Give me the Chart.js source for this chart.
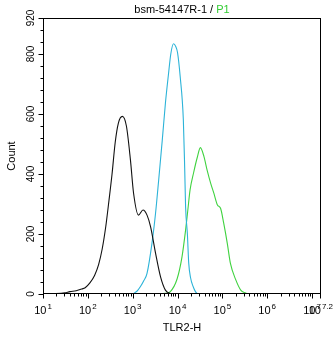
<!DOCTYPE html>
<html>
<head>
<meta charset="utf-8">
<script src="https://cdn.jsdelivr.net/npm/chart.js@4"></script>
<style>
  html, body { margin: 0; padding: 0; background: #fff; }
  canvas { display: block; }
</style>
</head>
<body>
<canvas id="c" width="334" height="337"></canvas>
<script>
// Histogram traces: x positions as log10(TLR2-H), y as event counts
const isotypeExp   = [1.00, 1.27, 1.49, 1.60, 1.74, 1.87, 1.94, 2.05, 2.15, 2.24, 2.32, 2.40, 2.47, 2.54, 2.61, 2.68, 2.77, 2.86, 2.95, 3.02, 3.13, 3.23, 3.32, 3.40, 3.51, 3.62, 3.73, 3.84, 3.92, 4.20];
const isotypeCount = [0, 1, 4, 8, 11, 17, 21, 38, 62, 98, 150, 225, 310, 400, 505, 569, 592, 560, 447, 336, 263, 280, 263, 224, 136, 58, 13, 2, 0, 0];

const controlExp   = [3.00, 3.10, 3.17, 3.25, 3.32, 3.43, 3.51, 3.58, 3.66, 3.73, 3.80, 3.85, 3.91, 3.96, 4.00, 4.06, 4.13, 4.16, 4.18, 4.22, 4.25, 4.29, 4.35, 4.40, 4.45];
const controlCount = [0, 10, 24, 45, 69, 169, 269, 380, 513, 636, 735, 800, 834, 825, 805, 724, 580, 420, 291, 200, 103, 55, 24, 8, 0];

const sampleExp   = [3.54, 3.73, 3.84, 3.99, 4.10, 4.18, 4.23, 4.28, 4.36, 4.44, 4.51, 4.59, 4.66, 4.74, 4.81, 4.89, 4.96, 5.03, 5.11, 5.18, 5.30, 5.41, 5.52, 5.56];
const sampleCount = [0, 2, 8, 50, 124, 213, 280, 347, 405, 455, 488, 458, 413, 369, 336, 297, 286, 236, 169, 102, 47, 13, 3, 0];

const xDecades = [1, 2, 3, 4, 5, 6, 7];
const xEndExp = 7.2;
const yMajorTicks = [0, 200, 400, 600, 800, 920];
const yMax = 920;

const titleMain = 'bsm-54147R-1 / ';
const titleGate = 'P1';
const xTitle = 'TLR2-H';
const yTitle = 'Count';

const toPoints = (exps, counts) => exps.map((e, i) => ({ x: Math.pow(10, e), y: counts[i] }));

const FONT = '"Liberation Sans", Arial, sans-serif';

const framePlugin = {
  id: 'frame',
  afterDraw(chart) {
    const { ctx, chartArea: { left, right, top, bottom }, scales: { x, y } } = chart;
    ctx.save();
    ctx.strokeStyle = '#000';
    ctx.lineWidth = 1;
    ctx.strokeRect(Math.round(left) + 0.5, Math.round(top) + 0.5,
                   Math.round(right - left) - 1, Math.round(bottom - top) - 1);

    const ax = Math.round(left) + 0.5;
    const ay = Math.round(bottom) - 0.5;

    // y ticks: majors at labelled values, minors every 40
    ctx.beginPath();
    for (let v = 0; v <= yMax; v += 40) {
      const py = Math.round(y.getPixelForValue(v)) + 0.5;
      const major = yMajorTicks.includes(v);
      ctx.moveTo(ax, py);
      ctx.lineTo(ax - (major ? 5 : 3), py);
    }
    // x ticks: decades and 2..9 minors
    xDecades.forEach(n => {
      for (let k = 1; k <= 9; k++) {
        const val = k * Math.pow(10, n);
        if (Math.log10(val) > xEndExp + 1e-9) break;
        const px = Math.round(x.getPixelForValue(val)) + 0.5;
        ctx.moveTo(px, ay);
        ctx.lineTo(px, ay + (k === 1 ? 5 : 3));
      }
    });
    const pEnd = Math.round(x.getPixelForValue(Math.pow(10, xEndExp))) - 0.5;
    ctx.moveTo(pEnd, ay);
    ctx.lineTo(pEnd, ay + 5);
    ctx.stroke();

    // y tick labels, rotated
    ctx.fillStyle = '#000';
    ctx.font = '10px ' + FONT;
    ctx.textAlign = 'center';
    ctx.textBaseline = 'middle';
    yMajorTicks.forEach(v => {
      const py = y.getPixelForValue(v);
      ctx.save();
      ctx.translate(31, py);
      ctx.rotate(-Math.PI / 2);
      ctx.fillText(String(v), 0, 0);
      ctx.restore();
    });

    // x tick labels as 10 with superscript exponent
    const drawPow = (exp) => {
      const px = x.getPixelForValue(Math.pow(10, exp));
      const base = '10';
      const sup = String(exp);
      ctx.font = '11px ' + FONT;
      const wb = ctx.measureText(base).width;
      ctx.font = '8px ' + FONT;
      const ws = ctx.measureText(sup).width;
      const start = Math.min(px - (wb + 1 + ws) / 2, 333 - (wb + 1 + ws));
      ctx.textAlign = 'left';
      ctx.textBaseline = 'alphabetic';
      ctx.font = '11px ' + FONT;
      ctx.fillText(base, start, 314);
      ctx.font = '8px ' + FONT;
      ctx.fillText(sup, start + wb + 1, 309);
    };
    xDecades.forEach(drawPow);
    drawPow(xEndExp);

    // axis titles
    ctx.font = '11px ' + FONT;
    ctx.textAlign = 'center';
    ctx.textBaseline = 'alphabetic';
    ctx.fillText(xTitle, (left + right) / 2, 331);
    ctx.save();
    ctx.translate(15, (top + bottom) / 2);
    ctx.rotate(-Math.PI / 2);
    ctx.fillText(yTitle, 0, 0);
    ctx.restore();

    // chart title with coloured gate name
    const w1 = ctx.measureText(titleMain).width;
    const w2 = ctx.measureText(titleGate).width;
    const tx = (left + right) / 2 - (w1 + w2) / 2;
    ctx.textAlign = 'left';
    ctx.fillStyle = '#000';
    ctx.fillText(titleMain, tx, 13);
    ctx.fillStyle = '#33cc33';
    ctx.fillText(titleGate, tx + w1, 13);
    ctx.restore();
  }
};

const lineStyle = (color) => ({
  borderColor: color,
  borderWidth: 1.1,
  pointRadius: 0,
  fill: false,
  cubicInterpolationMode: 'monotone'
});

new Chart(document.getElementById('c'), {
  type: 'line',
  data: {
    datasets: [
      Object.assign({ label: 'Isotype', data: toPoints(isotypeExp, isotypeCount) }, lineStyle('#111111')),
      Object.assign({ label: 'Control', data: toPoints(controlExp, controlCount) }, lineStyle('#2cb3d8')),
      Object.assign({ label: 'TLR2', data: toPoints(sampleExp, sampleCount) }, lineStyle('#3fd23f'))
    ]
  },
  options: {
    responsive: false,
    animation: false,
    events: [],
    layout: { padding: { left: 43, top: 18, right: 13, bottom: 43 } },
    plugins: { legend: { display: false }, tooltip: { enabled: false }, title: { display: false } },
    scales: {
      x: { type: 'logarithmic', min: 10, max: Math.pow(10, xEndExp), display: false },
      y: { type: 'linear', min: 0, max: yMax, display: false }
    }
  },
  plugins: [framePlugin]
});
</script>
</body>
</html>
